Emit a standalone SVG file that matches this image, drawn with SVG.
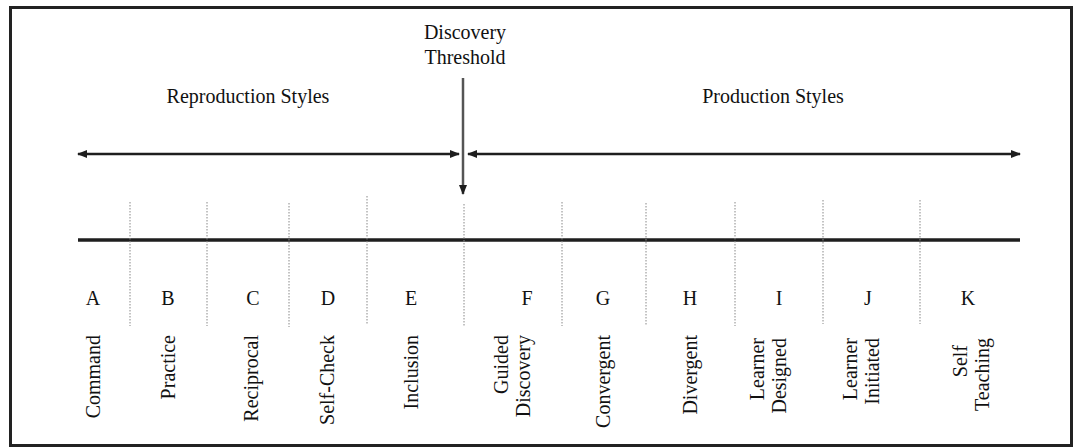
<svg xmlns="http://www.w3.org/2000/svg" width="1080" height="448" viewBox="0 0 1080 448">
<style>
text{font-family:"Liberation Serif","Times New Roman",serif;font-size:20px;fill:#111}
.c{text-anchor:middle}
.r{text-anchor:end}
.dot{stroke:#888;stroke-width:1;stroke-dasharray:1.5 1.5}
.ln{stroke:#1e1e1e;fill:none}
</style>
<defs>
<marker id="ah" viewBox="0 0 10 10" refX="9" refY="5" markerWidth="4" markerHeight="4" orient="auto-start-reverse" markerUnits="strokeWidth">
<path d="M0,1 L10,5 L0,9 z" fill="#1e1e1e"/>
</marker>
</defs>
<rect width="1080" height="448" fill="#fff"/>
<rect x="10.5" y="7.5" width="1061" height="438" fill="none" stroke="#222" stroke-width="3"/>

<g id="headers">
<text class="c" x="248" y="103">Reproduction Styles</text>
<text class="c" x="773" y="103">Production Styles</text>
<text class="c" x="465" y="39">Discovery</text>
<text class="c" x="465" y="64">Threshold</text>
</g>

<g id="connectors">
<line class="ln" x1="459" y1="154" x2="78" y2="154" stroke-width="2.5" marker-start="url(#ah)" marker-end="url(#ah)"/>
<line class="ln" x1="468" y1="154" x2="1020" y2="154" stroke-width="2.5" marker-start="url(#ah)" marker-end="url(#ah)"/>
<line x1="463" y1="78" x2="463" y2="194" stroke="#555" stroke-width="2.5" marker-end="url(#ah)"/>
<line class="ln" x1="78" y1="240" x2="1020" y2="240" stroke-width="3.5"/>
<line class="dot" x1="130" y1="202" x2="130" y2="326"/>
<line class="dot" x1="207" y1="202" x2="207" y2="326"/>
<line class="dot" x1="289" y1="203" x2="289" y2="327"/>
<line class="dot" x1="367" y1="196" x2="367" y2="324"/>
<line class="dot" x1="464" y1="204" x2="464" y2="327"/>
<line class="dot" x1="562" y1="202" x2="562" y2="326"/>
<line class="dot" x1="646" y1="203" x2="646" y2="326"/>
<line class="dot" x1="735" y1="202" x2="735" y2="326"/>
<line class="dot" x1="823" y1="200" x2="823" y2="324"/>
<line class="dot" x1="920" y1="200" x2="920" y2="324"/>
</g>

<g id="A"><text class="c" x="93" y="305">A</text><text class="r" transform="translate(100,335) rotate(-90)">Command</text></g>
<g id="B"><text class="c" x="168" y="305">B</text><text class="r" transform="translate(175,335) rotate(-90)">Practice</text></g>
<g id="C"><text class="c" x="253" y="305">C</text><text class="r" transform="translate(258,335) rotate(-90)">Reciprocal</text></g>
<g id="D"><text class="c" x="328" y="305">D</text><text class="r" transform="translate(334,335) rotate(-90)">Self-Check</text></g>
<g id="E"><text class="c" x="411" y="305">E</text><text class="r" transform="translate(418,335) rotate(-90)">Inclusion</text></g>
<g id="F"><text class="c" x="527" y="305">F</text><text class="r" transform="translate(508,335) rotate(-90)">Guided</text><text class="r" transform="translate(530,335) rotate(-90)">Discovery</text></g>
<g id="G"><text class="c" x="603" y="305">G</text><text class="r" transform="translate(610,335) rotate(-90)">Convergent</text></g>
<g id="H"><text class="c" x="690" y="305">H</text><text class="r" transform="translate(697,335) rotate(-90)">Divergent</text></g>
<g id="I"><text class="c" x="779" y="305">I</text><text class="r" transform="translate(764,338) rotate(-90)">Learner</text><text class="r" transform="translate(786,338) rotate(-90)">Designed</text></g>
<g id="J"><text class="c" x="868" y="305">J</text><text class="r" transform="translate(857,338) rotate(-90)">Learner</text><text class="r" transform="translate(879,338) rotate(-90)">Initiated</text></g>
<g id="K"><text class="c" x="968" y="305">K</text><text class="r" transform="translate(967,345) rotate(-90)">Self</text><text class="r" transform="translate(989,338) rotate(-90)">Teaching</text></g>
</svg>
